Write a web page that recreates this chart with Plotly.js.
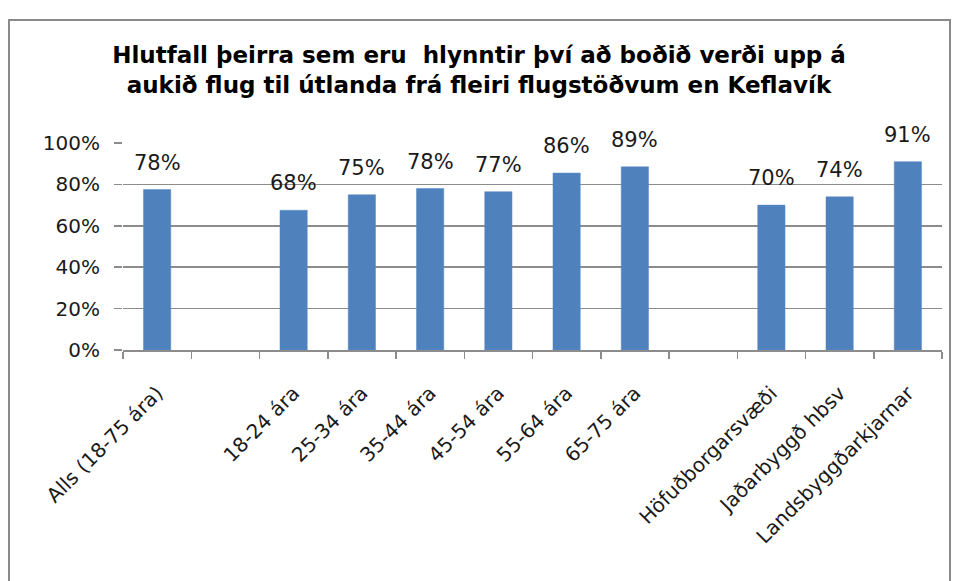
<!DOCTYPE html>
<html>
<head>
<meta charset="utf-8">
<script src="https://cdn.plot.ly/plotly-3.0.1.min.js"></script>
<style>html,body{margin:0;padding:0;background:#fff;}#chart{width:958px;height:581px;}</style>
</head>
<body>
<div id="chart"></div>
<script>
// Data
const categories = ["Alls (18-75 ára)", " ", "18-24 ára", "25-34 ára", "35-44 ára", "45-54 ára", "55-64 ára", "65-75 ára", "  ", "Höfuðborgarsvæði", "Jaðarbyggð hbsv", "Landsbyggðarkjarnar"];
const values = [0.775, null, 0.675, 0.75, 0.78, 0.765, 0.855, 0.885, null, 0.70, 0.74, 0.91];
const labels = ["78%", "", "68%", "75%", "78%", "77%", "86%", "89%", "", "70%", "74%", "91%"];
const yTickVals = [0, 0.2, 0.4, 0.6, 0.8, 1.0];
const yTickText = ["0%", "20%", "40%", "60%", "80%", "100%"];
const titleText = "Hlutfall þeirra sem eru  hlynntir því að boðið verði upp á<br>aukið flug til útlanda frá fleiri flugstöðvum en Keflavík";

const FONT = "DejaVu Sans, sans-serif";
const TXT = "#1a1a1a";
const GRID = "#8c8c8c";

const annotations = [];
categories.forEach((c, i) => {
  if (values[i] !== null) {
    annotations.push({
      x: c, y: values[i], xref: "x", yref: "y",
      text: labels[i], showarrow: false,
      yanchor: "middle", yshift: 27,
      font: {family: FONT, size: 21, color: TXT}
    });
  }
});

const trace = {
  type: "bar",
  x: categories,
  y: values,
  marker: {color: "#4f81bd", line: {color: "#5a8ac6", width: 0.5}},
  hoverinfo: "none"
};

const W = 958, H = 581, L = 123, R = 16, T = 143, B = 231;
const pw = W - L - R, ph = H - T - B;
const px = v => (v - L) / pw;
const py = v => (H - B - v) / ph;

const layout = {
  width: W, height: H,
  margin: {l: L, r: R, t: T, b: B, pad: 0},
  paper_bgcolor: "#ffffff",
  plot_bgcolor: "#ffffff",
  showlegend: false,
  bargap: 0.6,
  title: {
    text: titleText,
    font: {family: FONT, size: 23, color: "#000", weight: "bold"},
    x: 0.5, xanchor: "center", xref: "container",
    y: 1 - 63 / H, yanchor: "middle", yref: "container"
  },
  xaxis: {
    type: "category",
    tickangle: -45,
    tickson: "boundaries",
    ticks: "outside", ticklen: 7, tickcolor: GRID, tickwidth: 1.5,
    showline: true, linecolor: GRID, linewidth: 1.5,
    showgrid: false,
    ticklabelstandoff: 22,
    tickfont: {family: FONT, size: 20, color: TXT},
    fixedrange: true
  },
  yaxis: {
    range: [0, 1],
    tickvals: yTickVals, ticktext: yTickText,
    ticks: "outside", ticklen: 8, tickcolor: GRID, tickwidth: 1.5,
    showline: false,
    showgrid: true, gridcolor: GRID, gridwidth: 1.5,
    zeroline: false,
    ticklabelstandoff: 10,
    tickfont: {family: FONT, size: 20, color: TXT},
    fixedrange: true
  },
  annotations: annotations,
  shapes: [{
    type: "rect", xref: "paper", yref: "paper", layer: "below",
    x0: px(9), x1: px(950), y0: py(600), y1: py(20),
    line: {color: "#8a8a8a", width: 2}, fillcolor: "rgba(0,0,0,0)"
  }]
};

Plotly.newPlot("chart", [trace], layout, {displayModeBar: false, staticPlot: true});
</script>
</body>
</html>
